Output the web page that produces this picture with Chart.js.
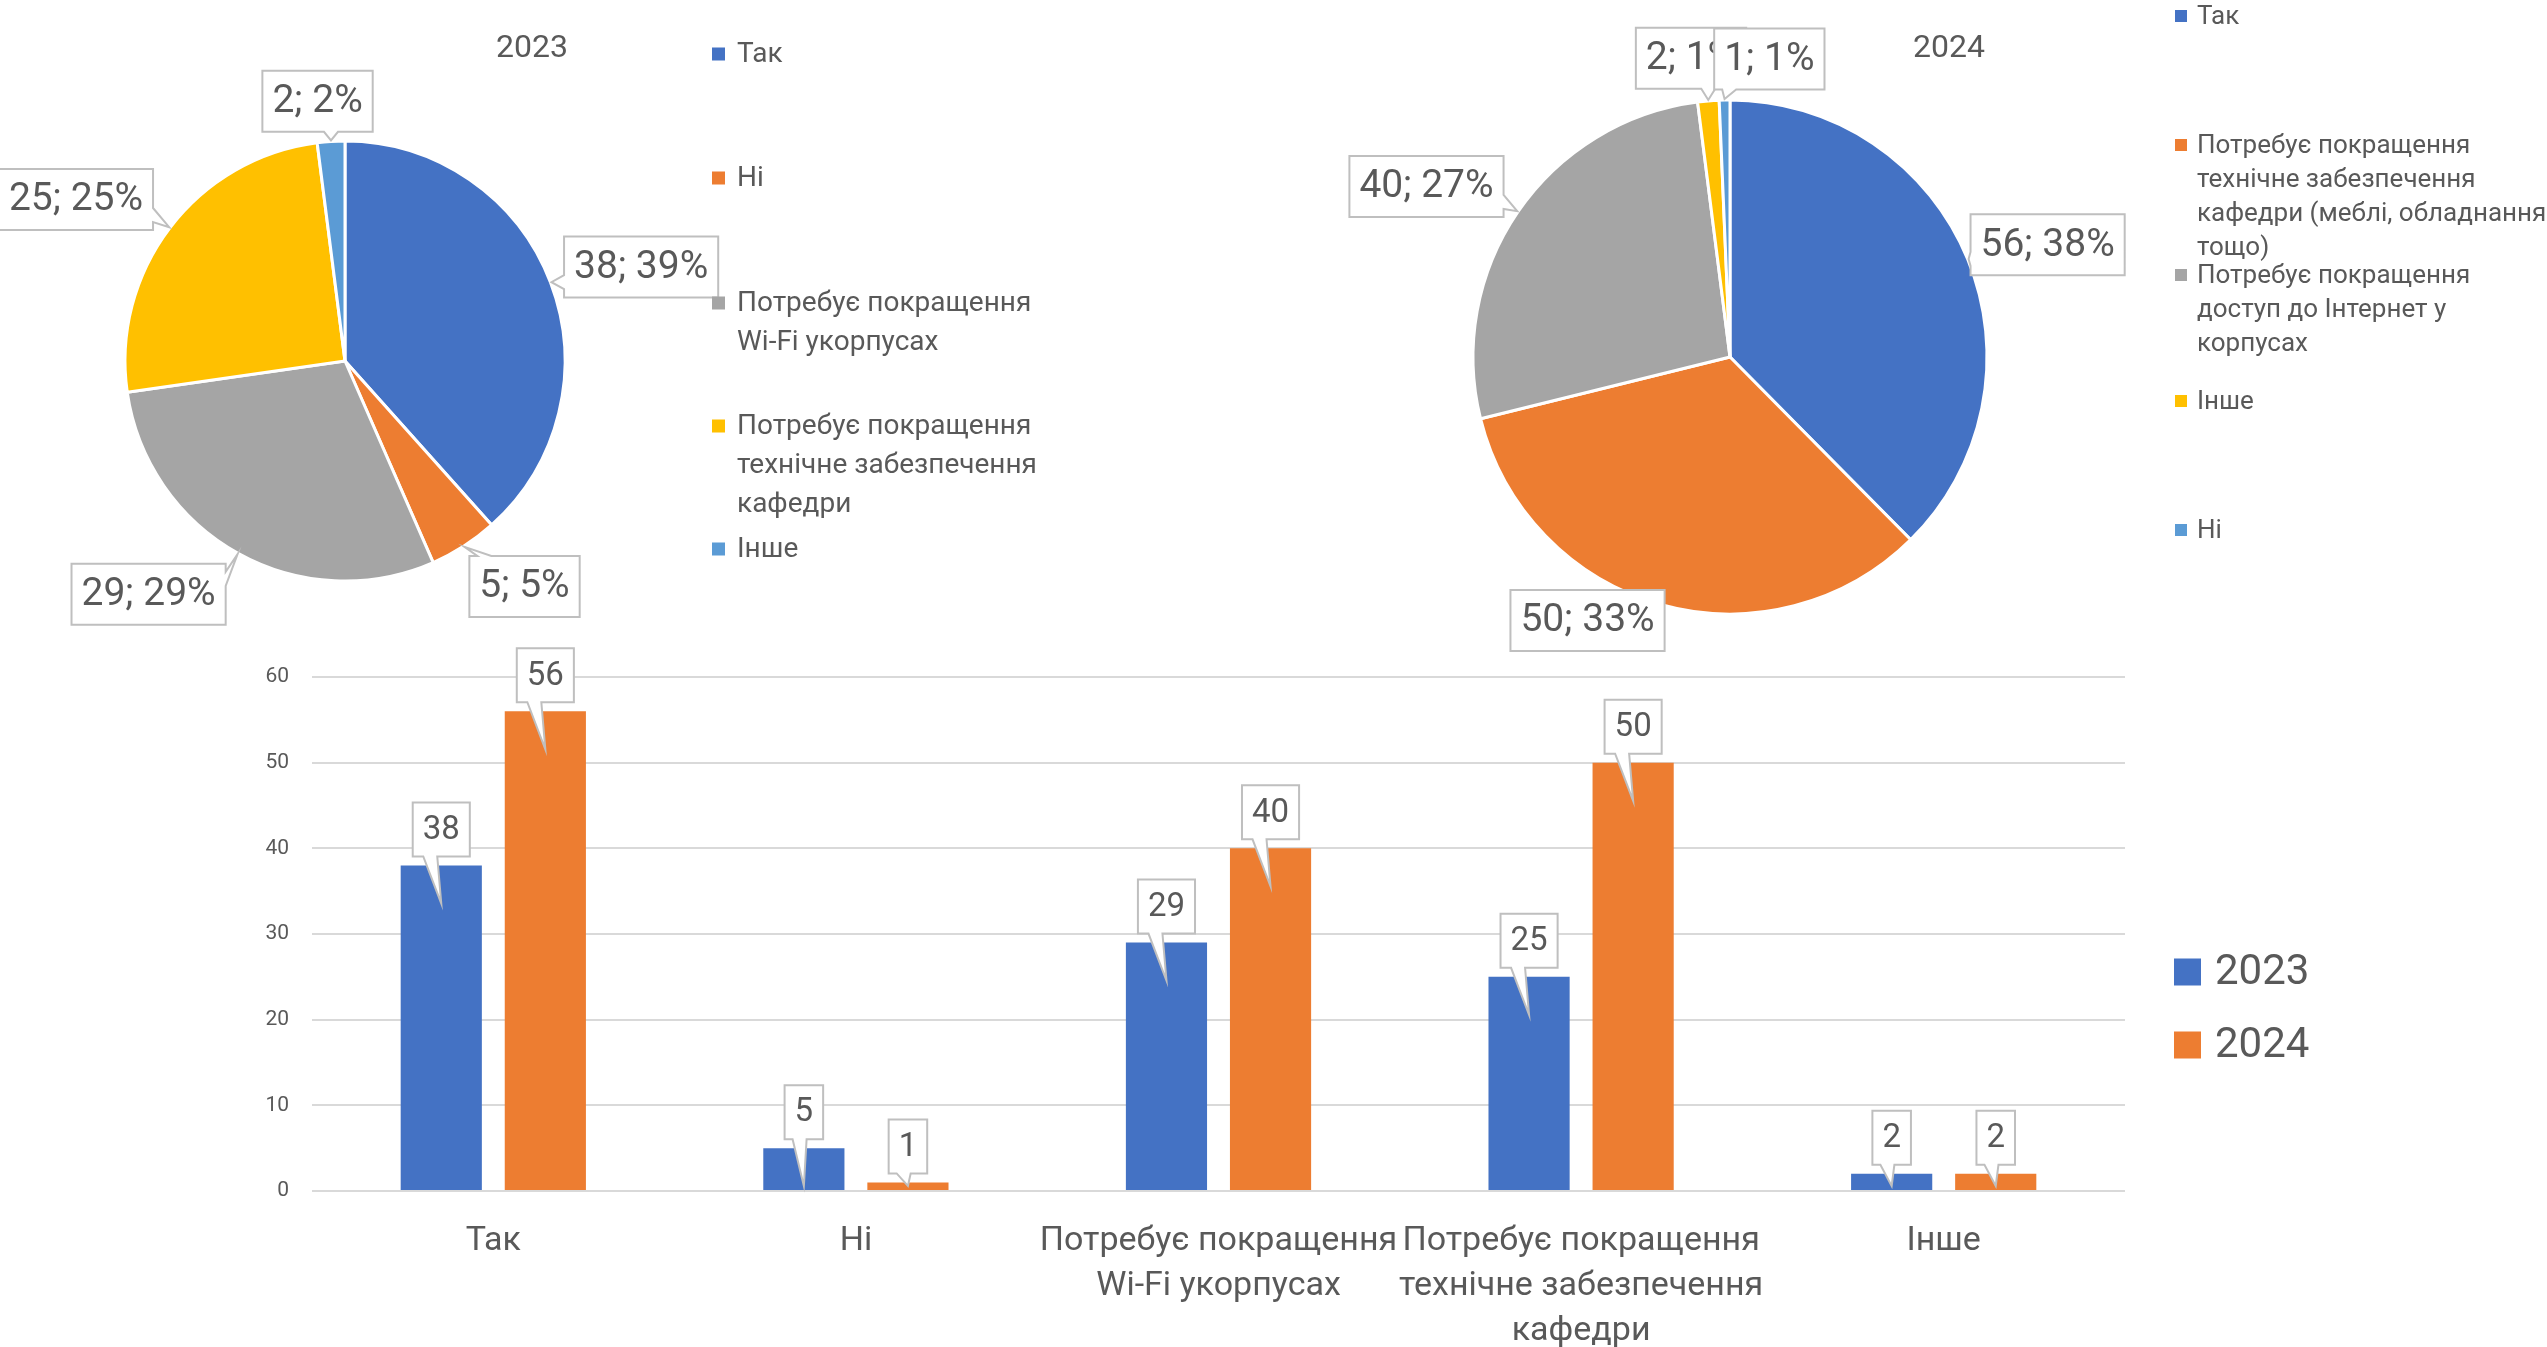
<!DOCTYPE html>
<html>
<head>
<meta charset="utf-8">
<script src="https://cdn.jsdelivr.net/npm/chart.js@4.4.1/dist/chart.umd.min.js"></script>
<style>
  html, body { margin: 0; padding: 0; background: #fff; overflow: hidden; }
  canvas { position: absolute; left: 0; top: 0; }
</style>
</head>
<body>
<canvas id="pie2023" width="2547" height="1347"></canvas>
<canvas id="pie2024" width="2547" height="1347"></canvas>
<canvas id="barChart" width="2547" height="1347"></canvas>
<script>
// --- 2023 pie ---
const legendLines2023 = [
  ["Так"],
  ["Ні"],
  ["Потребує покращення", "Wi-Fi укорпусах"],
  ["Потребує покращення", "технічне забезпечення", "кафедри"],
  ["Інше"]
];
const values2023 = [38, 5, 29, 25, 2];
const percents2023 = [39, 5, 29, 25, 2];

// --- 2024 pie ---
const legendLines2024 = [
  ["Так"],
  ["Потребує покращення", "технічне забезпечення", "кафедри (меблі, обладнання", "тощо)"],
  ["Потребує покращення", "доступ до Інтернет у", "корпусах"],
  ["Інше"],
  ["Ні"]
];
const values2024 = [56, 50, 40, 2, 1];
const percents2024 = [38, 33, 27, 1, 1];

const sliceColors = ["#4472C4", "#ED7D31", "#A5A5A5", "#FFC000", "#5B9BD5"];

// --- bar chart ---
const barCategories = [
  "Так",
  "Ні",
  ["Потребує покращення", "Wi-Fi укорпусах"],
  ["Потребує покращення", "технічне забезпечення", "кафедри"],
  "Інше"
];
const bar2023 = [38, 5, 29, 25, 2];
const bar2024 = [56, 1, 40, 50, 2];
const yTicks = [0, 10, 20, 30, 40, 50, 60];

const FONT = "Roboto, 'Noto Sans', sans-serif";
const TEXT = "#595959";
Chart.defaults.font.family = FONT;
Chart.defaults.color = TEXT;

// callout box with a wedge pointing at tip
function drawCallout(ctx, box, tip, text, shift) {
  const { x, y, w, h } = box;
  const right = x + w, bottom = y + h;
  const half = 7;
  const outX = Math.abs(tip.x - (x + w / 2)) - w / 2;
  const outY = Math.abs(tip.y - (y + h / 2)) - h / 2;
  let side = null;
  if (outX > 0 || outY > 0) {
    if (outY >= outX) side = tip.y > y ? "bottom" : "top";
    else side = tip.x > x ? "right" : "left";
  }
  const bx = Math.min(Math.max(tip.x + (shift || 0), x + 8 + half), right - 8 - half);
  const by = Math.min(Math.max(tip.y, y + 8 + half), bottom - 8 - half);

  ctx.beginPath();
  ctx.moveTo(x, y);
  if (side === "top") { ctx.lineTo(bx - half, y); ctx.lineTo(tip.x, tip.y); ctx.lineTo(bx + half, y); }
  ctx.lineTo(right, y);
  if (side === "right") { ctx.lineTo(right, by - half); ctx.lineTo(tip.x, tip.y); ctx.lineTo(right, by + half); }
  ctx.lineTo(right, bottom);
  if (side === "bottom") { ctx.lineTo(bx + half, bottom); ctx.lineTo(tip.x, tip.y); ctx.lineTo(bx - half, bottom); }
  ctx.lineTo(x, bottom);
  if (side === "left") { ctx.lineTo(x, by + half); ctx.lineTo(tip.x, tip.y); ctx.lineTo(x, by - half); }
  ctx.closePath();
  ctx.fillStyle = "#fff";
  ctx.fill();
  ctx.strokeStyle = "#BFBFBF";
  ctx.lineWidth = 2;
  ctx.stroke();

  ctx.fillStyle = TEXT;
  ctx.textAlign = "center";
  ctx.textBaseline = "middle";
  ctx.fillText(text, x + w / 2, y + h / 2 + 1);
}

function overlaps(a, b) {
  return !(a.x + a.w <= b.x || b.x + b.w <= a.x || a.y + a.h <= b.y || b.y + b.h <= a.y);
}

// label boxes sit outside the slice; angle nudges (deg) and gaps mimic the original placement
const pieLabels = {
  id: "pieLabels",
  afterDatasetsDraw(chart, args, opts) {
    const ctx = chart.ctx;
    const meta = chart.getDatasetMeta(0);
    const data = chart.data.datasets[0].data;
    ctx.save();
    ctx.font = opts.fontSize + "px " + FONT;
    const items = [];
    meta.data.forEach((arc, i) => {
      const p = arc.getProps(["x", "y", "startAngle", "endAngle", "outerRadius"], true);
      const mid = (p.startAngle + p.endAngle) / 2;
      const ang = mid + (opts.nudge[i] || 0) * Math.PI / 180;
      const ux = Math.cos(ang), uy = Math.sin(ang);
      const text = data[i] + "; " + opts.percents[i] + "%";
      const w = ctx.measureText(text).width + 2 * opts.padX;
      const h = opts.boxH;
      const d = p.outerRadius + opts.gaps[i] + Math.abs(ux) * w / 2 + Math.abs(uy) * h / 2;
      const box = { x: p.x + ux * d - w / 2, y: p.y + uy * d - h / 2, w, h };
      const prev = items[items.length - 1];
      if (prev && overlaps(prev.box, box)) box.x = prev.box.x + prev.box.w - 32;
      const tip = { x: p.x + Math.cos(mid) * (p.outerRadius + 1), y: p.y + Math.sin(mid) * (p.outerRadius + 1) };
      items.push({ box, tip, text });
    });
    items.forEach(it => drawCallout(ctx, it.box, it.tip, it.text));
    ctx.restore();
  }
};

const pieLegend = {
  id: "pieLegend",
  afterDraw(chart, args, opts) {
    const ctx = chart.ctx;
    const colors = chart.data.datasets[0].backgroundColor;
    ctx.save();
    ctx.fillStyle = TEXT;
    ctx.textAlign = "center";
    ctx.textBaseline = "middle";
    ctx.font = opts.titleSize + "px " + FONT;
    ctx.fillText(opts.title, opts.titleX, opts.titleY);

    ctx.font = opts.fontSize + "px " + FONT;
    ctx.textAlign = "left";
    opts.lines.forEach((lines, i) => {
      const y0 = opts.rows[i];
      ctx.fillStyle = colors[i];
      ctx.fillRect(opts.x, y0 - opts.box / 2, opts.box, opts.box);
      ctx.fillStyle = TEXT;
      lines.forEach((line, j) => {
        ctx.fillText(line, opts.textX, y0 + j * opts.lineStep + 1);
      });
    });
    ctx.restore();
  }
};

function makePie(id, lines, values, percents, area, labelOpts, legendOpts) {
  new Chart(document.getElementById(id), {
    type: "pie",
    data: {
      labels: lines.map(l => l.join(" ")),
      datasets: [{
        data: values,
        backgroundColor: sliceColors,
        borderColor: "#fff",
        borderWidth: 3
      }]
    },
    options: {
      responsive: false,
      animation: false,
      layout: { padding: area },
      plugins: {
        legend: { display: false },
        tooltip: { enabled: false },
        pieLabels: Object.assign({ percents: percents, fontSize: 39, padX: 10, boxH: 61 }, labelOpts),
        pieLegend: Object.assign({ lines: lines }, legendOpts)
      }
    },
    plugins: [pieLabels, pieLegend]
  });
}

makePie("pie2023", legendLines2023, values2023, percents2023,
  { left: 123.5, right: 1980.5, top: 139.5, bottom: 764.5 },
  { nudge: [3.3, -5.8, 11, -6.3, -2.4], gaps: [8, 10, 12, 12, 5] },
  { title: "2023", titleX: 532, titleY: 49, titleSize: 32,
    x: 712, textX: 737, box: 13, fontSize: 28, lineStep: 39,
    rows: [54, 178, 303, 426, 549] });

makePie("pie2024", legendLines2024, values2024, percents2024,
  { left: 1471.5, right: 558.5, top: 98.5, bottom: 731.5 },
  { nudge: [2.9, 12.7, -5.1, -2.6, 9.6], gaps: [-3, -21, 9, 7, 6] },
  { title: "2024", titleX: 1949, titleY: 49, titleSize: 32,
    x: 2175, textX: 2197, box: 12, fontSize: 26, lineStep: 34,
    rows: [16, 145, 275, 401, 530] });

// bar chart helpers
const barLabels = {
  id: "barLabels",
  afterDatasetsDraw(chart) {
    const ctx = chart.ctx;
    ctx.save();
    ctx.font = "33px " + FONT;
    chart.data.datasets.forEach((ds, di) => {
      chart.getDatasetMeta(di).data.forEach((bar, i) => {
        const p = bar.getProps(["x", "y", "base"], true);
        const text = String(ds.data[i]);
        const w = ctx.measureText(text).width + 20;
        const h = 54;
        const box = { x: p.x - w / 2, y: p.y - 9 - h, w, h };
        const tip = { x: p.x, y: Math.min(p.y + 38, p.base - 4) };
        drawCallout(ctx, box, tip, text, -11);
      });
    });
    ctx.restore();
  }
};

const barLegend = {
  id: "barLegend",
  afterDraw(chart) {
    const ctx = chart.ctx;
    ctx.save();
    ctx.font = "42px " + FONT;
    ctx.textAlign = "left";
    ctx.textBaseline = "middle";
    const rows = [972, 1045];
    chart.data.datasets.forEach((ds, i) => {
      ctx.fillStyle = ds.backgroundColor;
      ctx.fillRect(2174, rows[i] - 13.5, 27, 27);
      ctx.fillStyle = TEXT;
      ctx.fillText(ds.label, 2215, rows[i] + 1);
    });
    ctx.restore();
  }
};

new Chart(document.getElementById("barChart"), {
  type: "bar",
  data: {
    labels: barCategories,
    datasets: [
      { label: "2023", data: bar2023, backgroundColor: "#4472C4",
        categoryPercentage: 0.574, barPercentage: 0.78 },
      { label: "2024", data: bar2024, backgroundColor: "#ED7D31",
        categoryPercentage: 0.574, barPercentage: 0.78 }
    ]
  },
  options: {
    responsive: false,
    animation: false,
    layout: { padding: { left: 0, right: 422, top: 677, bottom: 0 } },
    plugins: {
      legend: { display: false },
      tooltip: { enabled: false }
    },
    scales: {
      x: {
        grid: { display: false },
        border: { display: false },
        ticks: {
          font: { size: 34, lineHeight: 45 / 34 },
          color: TEXT,
          maxRotation: 0,
          minRotation: 0,
          autoSkip: false,
          padding: 20
        },
        afterFit(scale) { scale.height = 156; }
      },
      y: {
        min: yTicks[0],
        max: yTicks[yTicks.length - 1],
        grid: { color: "#D9D9D9", lineWidth: 2, drawTicks: false },
        border: { display: false },
        ticks: {
          stepSize: yTicks[1] - yTicks[0],
          font: { size: 21 },
          color: TEXT,
          padding: 23
        },
        afterFit(scale) { scale.width = 312; }
      }
    }
  },
  plugins: [barLabels, barLegend]
});
</script>
</body>
</html>
